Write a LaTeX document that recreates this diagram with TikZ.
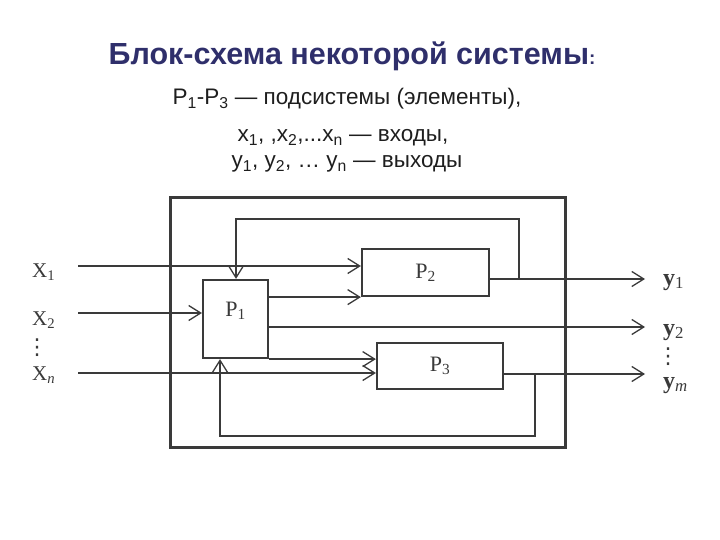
\documentclass[tikz,border=0pt]{standalone}
\usepackage{fontspec}
\setmainfont{Liberation Serif}
\newfontfamily\arial{Liberation Sans}
\newfontfamily\dejavu{DejaVu Sans}
\usetikzlibrary{arrows.meta}
\definecolor{navy}{HTML}{2F2F6B}
\definecolor{ink}{HTML}{3A3A3A}
\definecolor{txt}{HTML}{1E1E1E}
\begin{document}
\begin{tikzpicture}[x=1pt,y=-1pt,
  blk/.style={draw=ink, line width=2.2pt, inner sep=0pt, font=\fontsize{22}{24}\selectfont, text=ink},
  wire/.style={draw=ink, line width=1.3pt},
  arr/.style={wire, -{Straight Barb[length=12pt,width=15pt]}},
  lab/.style={font=\fontsize{21}{23}\selectfont, text=ink, inner sep=0pt, anchor=base west},
  ylab/.style={font=\fontsize{24}{26}\selectfont, text=ink, inner sep=0pt, anchor=base west},
  dots/.style={font=\dejavu\fontsize{22}{24}\selectfont, text=ink, inner sep=0pt},
  sub/.style={anchor=base, font=\arial\fontsize{22.5}{26}\selectfont, text=txt}
]
\useasboundingbox (0,0) rectangle (720,540);
% texts
\node[anchor=base, font=\arial\bfseries\fontsize{30.5}{34}\selectfont, text=navy] (title) at (352,65) {Блок-схема некоторой системы{\fontsize{19}{20}\selectfont:}};
\node[sub] (l1) at (347,105) {P\textsubscript{1}-P\textsubscript{3} — подсистемы (элементы),};
\node[sub] (l2) at (343,142) {x\textsubscript{1}, ,x\textsubscript{2},...x\textsubscript{n} — входы,};
\node[sub] (l3) at (347,168) {y\textsubscript{1}, y\textsubscript{2}, … y\textsubscript{n} — выходы};
% outer system box
\node[draw=ink, line width=3pt, minimum width=395pt, minimum height=249pt, inner sep=0pt] (sys) at (367.5,322.5) {};
% blocks
\node[blk, minimum width=65pt, minimum height=78pt, label={[font=\fontsize{22}{24}\selectfont, text=ink, anchor=center, yshift=-32pt]north:P\textsubscript{1}}] (P1) at (235.5,319) {};
\node[blk, minimum width=127pt, minimum height=47pt] (P2) at (425.5,272.5) {P\textsubscript{2}};
\node[blk, minimum width=126pt, minimum height=46pt] (P3) at (440,366) {P\textsubscript{3}};
% labels
\node[lab] (x1) at (32,277) {X\textsubscript{1}};
\node[lab] (x2) at (32,325) {X\textsubscript{2}};
\node[dots] (xd) at (37,348) {⋮};
\node[lab] (xn) at (32,380) {X\textsubscript{\itshape n}};
\node[ylab] (y1) at (663,285) {\textbf{y}\textsubscript{1}};
\node[ylab] (y2) at (663,335) {\textbf{y}\textsubscript{2}};
\node[dots] (yd) at (668,357) {⋮};
\node[ylab] (ym) at (663,388) {\textbf{y}\textsubscript{\itshape m}};
% free ends
\coordinate (a1) at (78,266);
\coordinate (a2) at (78,313);
\coordinate (an) at (78,373);
\coordinate (o1) at (645,279);
\coordinate (o2) at (645,327);
\coordinate (o3) at (645,374);
\coordinate (f1) at (519,279);
\coordinate (t1) at (236,219);
\coordinate (f3) at (535,374);
\coordinate (t3) at (220,436);
% inputs
\draw[arr] (a1) -- (a1 -| P2.west);
\draw[arr] (a2) -- (a2 -| P1.west);
\draw[arr] (an) -- (an -| P3.west);
% internal
\draw[arr] (P1.east |- P2.south) -- (P2.south west);
\draw[arr] (P1.south east) -- (P1.south east -| P3.west);
% outputs
\draw[arr] (o1 -| P2.east) -- (o1);
\draw[arr] (o2 -| P1.east) -- (o2);
\draw[arr] (o3 -| P3.east) -- (o3);
% feedback
\draw[arr] (f1) |- (t1) -- (t1 |- P1.north);
\draw[arr] (f3) |- (t3) -- (t3 |- P1.south);
\end{tikzpicture}
\end{document}
